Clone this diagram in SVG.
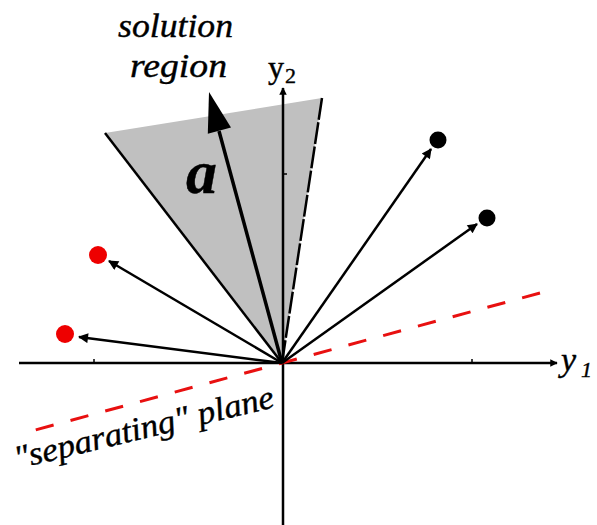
<svg xmlns="http://www.w3.org/2000/svg" width="597" height="525" viewBox="0 0 597 525">
  <defs>
    <style>
      .ax { stroke:#000; stroke-width:2.5; fill:none; }
      .vec { stroke:#000; stroke-width:2.5; fill:none; }
      .lbl { font-family:"Liberation Serif", "DejaVu Serif", serif; font-style:italic; fill:#000; stroke:#000; stroke-width:0.4; }
      .up { font-style:normal; }
      .red { fill:#ee0000; }
      .blk { fill:#000; }
    </style>
    <marker id="ah" viewBox="0 0 10 10" refX="9" refY="5" markerWidth="5" markerHeight="4" markerUnits="strokeWidth" orient="auto">
      <path d="M0,0 L10,5 L0,10 z" fill="#000"/>
    </marker>
    <marker id="axh" viewBox="0 0 10 10" refX="9" refY="5" markerWidth="5" markerHeight="3" markerUnits="strokeWidth" orient="auto">
      <path d="M0,0 L10,5 L0,10 z" fill="#000"/>
    </marker>
  </defs>
  <rect width="597" height="525" fill="#fff"/>

  <g id="solution-region">
    <polygon points="105,133 322,98 282,363" fill="#c0c0c0"/>
    <line x1="105" y1="133" x2="282" y2="363" stroke="#000" stroke-width="2.5"/>
    <line x1="322" y1="98" x2="282" y2="363" stroke="#000" stroke-width="2.5" stroke-dasharray="22 2.5"/>
  </g>

  <g id="axes">
    <line class="ax" x1="19" y1="363" x2="557" y2="363" marker-end="url(#axh)"/>
    <line class="ax" x1="283" y1="525" x2="283" y2="88" marker-end="url(#axh)"/>
    <line x1="94" y1="363" x2="94" y2="359" stroke="#000" stroke-width="1.5"/>
    <line x1="472" y1="363" x2="472" y2="359" stroke="#000" stroke-width="1.5"/>
    <line x1="283" y1="174" x2="287" y2="174" stroke="#000" stroke-width="1.5"/>
  </g>

  <g id="separating-plane">
    <line x1="540" y1="293" x2="28" y2="432" stroke="#e81010" stroke-width="3" stroke-dasharray="18.5 17.5"/>
  </g>

  <g id="connectors">
    <line class="vec" x1="282" y1="363" x2="431" y2="149" marker-end="url(#ah)"/>
    <line class="vec" x1="282" y1="363" x2="477" y2="224" marker-end="url(#ah)"/>
    <line class="vec" x1="282" y1="363" x2="109" y2="261" marker-end="url(#ah)"/>
    <line class="vec" x1="282" y1="363" x2="79" y2="337" marker-end="url(#ah)"/>
  </g>

  <g id="weight-vector-a">
    <line x1="282" y1="363" x2="219" y2="131" stroke="#000" stroke-width="3.5"/>
    <polygon points="209,92 231,127.5 207.8,133.7" fill="#000"/>
    <text class="lbl" x="186" y="193" font-size="62" font-weight="bold">a</text>
  </g>

  <g id="point-black-1"><circle class="blk" cx="438" cy="140" r="8.5"/></g>
  <g id="point-black-2"><circle class="blk" cx="487" cy="218" r="8.5"/></g>
  <g id="point-red-1"><circle class="red" cx="98" cy="255" r="9"/></g>
  <g id="point-red-2"><circle class="red" cx="65" cy="334" r="9"/></g>

  <g id="label-solution-region">
    <text class="lbl" x="118" y="37" font-size="34" textLength="115" lengthAdjust="spacingAndGlyphs">solution</text>
    <text class="lbl" x="130" y="77" font-size="34" textLength="97" lengthAdjust="spacingAndGlyphs">region</text>
  </g>

  <g id="label-y2">
    <text class="lbl up" x="268" y="78" font-size="32">y</text>
    <text class="lbl up" x="285" y="83" font-size="22">2</text>
  </g>

  <g id="label-y1">
    <text class="lbl" x="561" y="371" font-size="34">y</text>
    <text class="lbl" x="581" y="377" font-size="22">1</text>
  </g>

  <g id="label-plane">
    <text class="lbl" x="0" y="0" font-size="33" transform="translate(17,469) rotate(-13.5)" textLength="266" lengthAdjust="spacingAndGlyphs">"separating" plane</text>
  </g>
</svg>
